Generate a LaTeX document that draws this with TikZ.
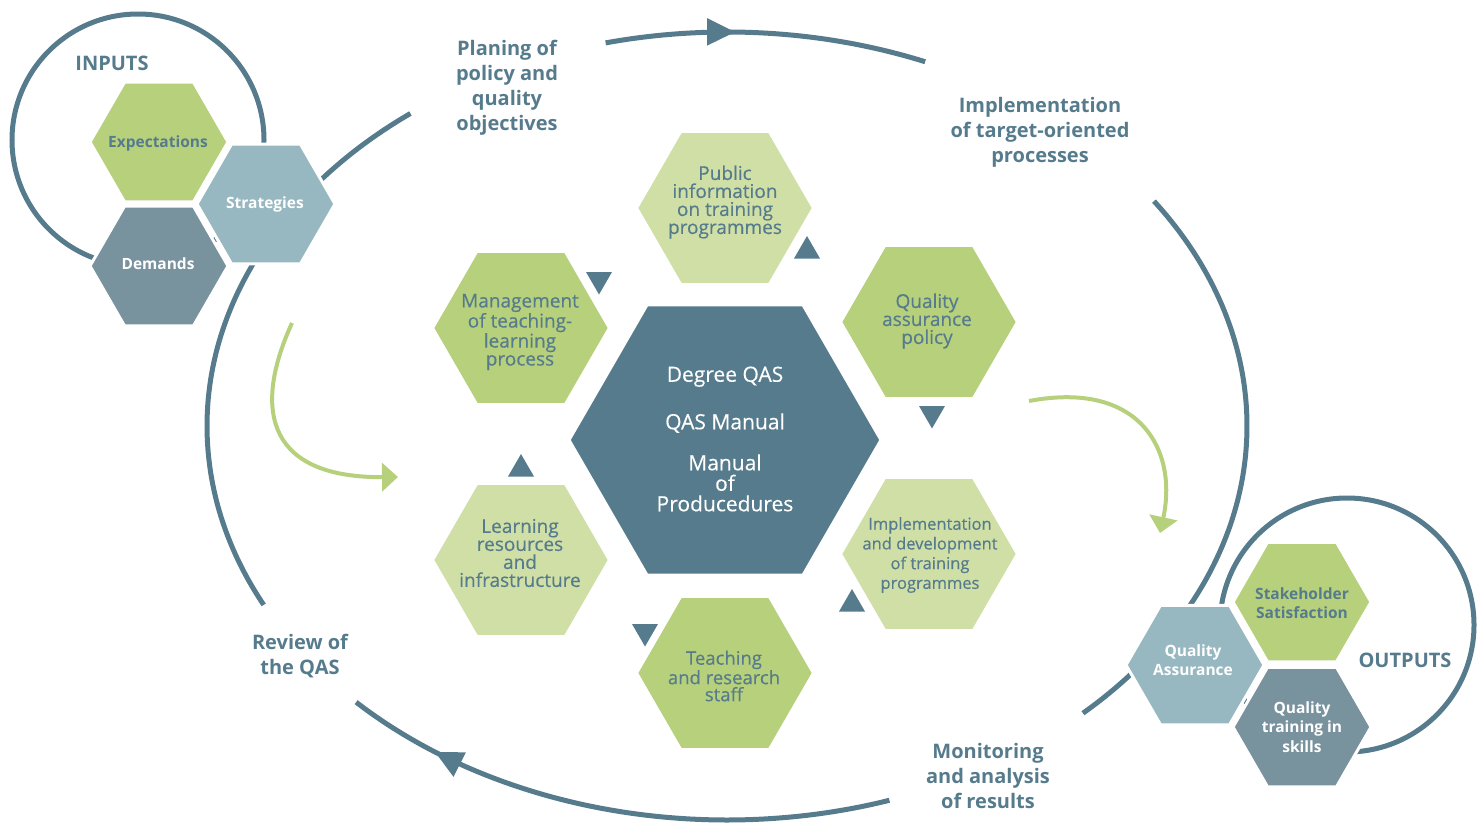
\documentclass[tikz,border=0pt]{standalone}
\usepackage{fontspec}
\setmainfont{Open Sans}
\newfontfamily\hexfont[FakeBold=0.35]{Open Sans}
\usetikzlibrary{shapes.geometric,arrows.meta}
\definecolor{dblue}{HTML}{557B8C}
\definecolor{gmid}{HTML}{B7D07C}
\definecolor{glight}{HTML}{CFDFA6}
\definecolor{lblue}{HTML}{97B8C1}
\definecolor{gblue}{HTML}{78929E}
\begin{document}
\begin{tikzpicture}[x=1pt,y=-1pt,
  hex/.style={regular polygon, regular polygon sides=6, inner sep=0pt, draw=white, line width=3pt},
  tri/.style={regular polygon, regular polygon sides=3, inner sep=0pt, minimum size=30pt, fill=dblue},
  tridown/.style={tri, shape border rotate=180},
  htext/.style={text=dblue, align=center, font=\hexfont\fontsize{19}{18}\selectfont},
  iotext/.style={align=center, font=\bfseries\fontsize{15.5}{19.5}\selectfont},
  lbl/.style={text=dblue, align=center, font=\bfseries\fontsize{20}{25}\selectfont},
  cyc/.style={draw=dblue, line width=5pt},
  garrow/.style={draw=gmid, line width=4pt, -{Triangle[length=16pt,width=28pt]}},
  ring/.style={draw=dblue, line width=5pt},
]
\useasboundingbox (0,0) rectangle (1480,822);

% main cycle (ellipse arcs)
\draw[cyc,-{Triangle[length=28pt,width=26pt]}] plot[domain=-103.5:-89.1,samples=30,smooth] ({727+520*cos(\x)},{426+394*sin(\x)});
\draw[cyc] plot[domain=-89.6:-67.6,samples=30,smooth] ({727+520*cos(\x)},{426+394*sin(\x)});
\draw[cyc] plot[domain=-34.8:46.8,samples=60,smooth] ({727+520*cos(\x)},{426+394*sin(\x)});
\draw[cyc,-{Triangle[length=28pt,width=26pt]}] plot[domain=71.8:124.2,samples=50,smooth] ({727+520*cos(\x)},{426+394*sin(\x)});
\draw[cyc] plot[domain=123.6:135.5,samples=20,smooth] ({727+520*cos(\x)},{426+394*sin(\x)});
\draw[cyc] plot[domain=153:232.5,samples=60,smooth] ({727+520*cos(\x)},{426+394*sin(\x)});

% input / output rings
\draw[ring] (138,140) circle[radius=126pt];
\draw[ring] (1347,625) circle[radius=127pt];

% inputs
\node[hex, fill=gmid, minimum size=138pt] (exp) at (159,142) {};
\node[hex, fill=gblue, minimum size=138pt] (dem) at (159,266) {};
\node[hex, fill=lblue, minimum size=138pt] (str) at (266,204) {};
\node[iotext, text=dblue] (expt) at (158,143) {Expectations};
\node[iotext, text=white] (demt) at (158,264) {Demands};
\node[iotext, text=white] (strt) at (265,204) {Strategies};
\node[lbl] (inputs) at (112,63) {INPUTS};

% outputs
\node[hex, fill=gmid, minimum size=138pt] (sta) at (1302,602) {};
\node[hex, fill=gblue, minimum size=138pt] (qts) at (1302,727) {};
\node[hex, fill=lblue, minimum size=138pt] (qas) at (1195,665) {};
\node[iotext, text=dblue] (stat) at (1302,603) {Stakeholder\\Satisfaction};
\node[iotext, text=white] (qtst) at (1302,727) {Quality\\training in\\skills};
\node[iotext, text=white] (qast) at (1193,660) {Quality\\Assurance};
\node[lbl] (outputs) at (1405,660) {OUTPUTS};

% central hexagons
\node[hex, fill=dblue, minimum size=312pt] (core) at (725,440) {};
\node[hex, fill=glight, minimum size=177pt] (pub) at (725,208) {};
\node[hex, fill=gmid, minimum size=177pt] (pol) at (929,322) {};
\node[hex, fill=glight, minimum size=177pt] (imp) at (929,554) {};
\node[hex, fill=gmid, minimum size=177pt] (tea) at (725,673) {};
\node[hex, fill=glight, minimum size=177pt] (lea) at (521,560) {};
\node[hex, fill=gmid, minimum size=177pt] (man) at (521,328) {};

\node[text=white, align=center, font=\hexfont\fontsize{21}{20.5}\selectfont] (coret) at (725,439)
  {Degree QAS\\[25.5pt] QAS Manual\\[20.5pt] Manual\\ of\\ Producedures};
\node[htext] (pubt) at (725,202) {Public\\information\\on training\\programmes};
\node[htext] (polt) at (927,321) {Quality\\assurance\\policy};
\node[htext, font=\hexfont\fontsize{16.5}{19.7}\selectfont] (impt) at (930,555) {Implementation\\and development\\of training\\programmes};
\node[htext, font=\hexfont\fontsize{18.5}{17}\selectfont] (teat) at (724,676) {Teaching\\and research\\staff};
\node[htext] (leat) at (520,553) {Learning\\resources\\and\\infrastructure};
\node[htext] (mant) at (520,332) {Management\\of teaching-\\learning\\process};

% small triangles
\node[tri] (t1) at (807,251) {};
\node[tridown] (t2) at (599,279.5) {};
\node[tridown] (t3) at (932,413.5) {};
\node[tri] (t4) at (521,469) {};
\node[tridown] (t5) at (645,631.5) {};
\node[tri] (t6) at (852,604) {};

% green arrows
\coordinate (gl1) at (292,323);
\coordinate (gl2) at (398,477);
\draw[garrow] (gl1) .. controls (250,415) and (272,478) .. (gl2);
\coordinate (gr1) at (1029,401);
\coordinate (gr2) at (1160,533);
\draw[garrow] (gr1) .. controls (1140,380) and (1178,450) .. (gr2);

% cycle labels
\node[lbl] (plan) at (507,88) {Planing of\\policy and\\quality\\objectives};
\node[lbl] (impl) at (1040,132) {Implementation\\of target-oriented\\processes};
\node[lbl] (rev) at (300,656) {Review of\\the QAS};
\node[lbl] (mon) at (988,776) {Monitoring\\and analysis\\of results};
\end{tikzpicture}
\end{document}
